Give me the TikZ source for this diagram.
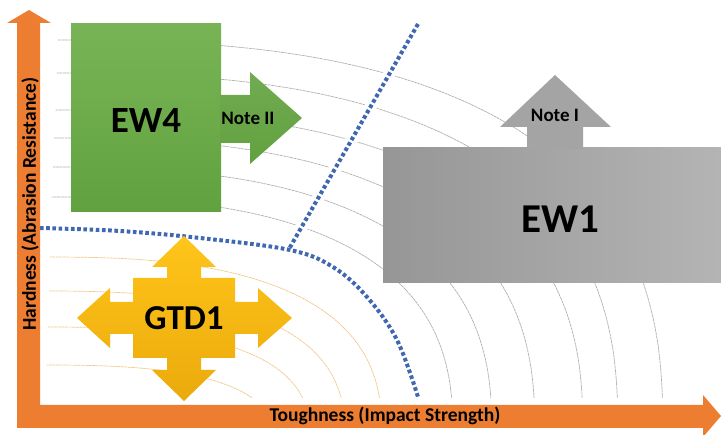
\documentclass[tikz,border=0pt]{standalone}
\usepackage{fontspec}
\setmainfont{Carlito}
\usetikzlibrary{calc}
\definecolor{axOrange}{HTML}{ED7D31}
\definecolor{ewGreenTop}{HTML}{78B456}
\definecolor{ewGreenBot}{HTML}{61A13F}
\definecolor{ewGrayL}{HTML}{969696}
\definecolor{ewGrayR}{HTML}{B4B4B4}
\definecolor{noteGray}{HTML}{A4A4A4}
\definecolor{gtdTop}{HTML}{FFC51A}
\definecolor{gtdBot}{HTML}{EBAA0C}
\definecolor{bndBlue}{HTML}{3F68B0}
\definecolor{cnGray}{HTML}{B0B0B0}
\definecolor{cnOrange}{HTML}{F2C98A}

\begin{document}
\begin{tikzpicture}[x=1pt, y=-1pt,
    big/.style={font=\bfseries\fontsize{37}{39}\selectfont, inner sep=0pt},
    note/.style={font=\bfseries\fontsize{19}{21}\selectfont, inner sep=0pt},
    axlbl/.style={font=\bfseries\fontsize{19.5}{21}\selectfont, inner sep=0pt},
    contour/.style={line width=0.7pt, dash pattern=on 3pt off 0.6pt},
    bound/.style={bndBlue, line width=4pt, dash pattern=on 3.6pt off 2.6pt},
    gap/.style={white, line width=12pt},
]
    \useasboundingbox (0,0) rectangle (721,435);
    \fill[white] (0,0) rectangle (721,435);

    \begin{scope}
        \clip (45,0) rectangle (721,398);
        \foreach \yy/\xx/\cc in {40/663/cnGray, 73/618/cnGray, 110/583/cnGray,
                                 138/535/cnGray, 167/492/cnGray, 197/453/cnGray,
                                 257/382/cnOrange, 291/345/cnOrange,
                                 327/310/cnOrange, 365/272/cnOrange}
            \draw[contour, \cc] plot[domain=0.5:89.5, samples=70, variable=\t]
                ({40+(\xx-40)*pow(cos(\t),0.75)}, {440-(440-\yy)*pow(sin(\t),0.75)});
    \end{scope}

    \draw[gap] (418,24) -- (289,249);
    \draw[gap] plot[smooth, tension=0.6] coordinates
        {(40,228) (120,231) (200,238) (290,250) (333,267) (367,297) (397,340) (418,397)};
    \draw[bound] (418,24) -- (289,249);
    \draw[bound] plot[smooth, tension=0.6] coordinates
        {(40,228) (120,231) (200,238) (290,250) (333,267) (367,297) (397,340) (418,397)};

    \shade[top color=ewGreenTop, bottom color=ewGreenBot] (71,24) rectangle (221,212);
    \shade[top color=ewGreenTop!95!black, bottom color=ewGreenBot]
        (220,95) -- (250,95) -- (250,72) -- (302,118) -- (250,164) -- (250,143) -- (220,143) -- cycle;
    \node[big] (ew4) at (146,120) {EW4};
    \node[note] (note2) at (248,118) {Note II};

    \shade[left color=ewGrayL, right color=ewGrayR] (383,148) rectangle (721,283);
    \fill[noteGray] (527,149) -- (527,127) -- (500,127) -- (555,75) -- (611,127) -- (583,127) -- (583,149) -- cycle;
    \node[big, font=\bfseries\fontsize{41}{43}\selectfont] (ew1) at (560,219) {EW1};
    \node[note] (note1) at (555,115) {Note I};

    \shade[top color=gtdTop, bottom color=gtdBot] (184,318) ++(0,-82)
        -- ++(32,31) -- ++(-15,0) -- ++(0,11) -- ++(34,0) -- ++(0,24) -- ++(23,0)
        -- ++(0,-14) -- ++(34,30) -- ++(-34,30) -- ++(0,-14) -- ++(-23,0) -- ++(0,24)
        -- ++(-34,0) -- ++(0,12) -- ++(15,0) -- ++(-32,31) -- ++(-32,-31) -- ++(15,0)
        -- ++(0,-12) -- ++(-34,0) -- ++(0,-24) -- ++(-23,0) -- ++(0,14) -- ++(-33,-30)
        -- ++(33,-30) -- ++(0,14) -- ++(23,0) -- ++(0,-24) -- ++(34,0) -- ++(0,-11)
        -- ++(-15,0) -- cycle;
    \node[big, font=\bfseries\fontsize{35}{37}\selectfont] (gtd1) at (184,318) {GTD1};

    \fill[axOrange] (17,428) -- (17,23) -- (7,23) -- (29,10) -- (51,23) -- (40,23) -- (40,428) -- cycle;
    \fill[axOrange] (17,405) -- (703,405) -- (703,395) -- (721,416) -- (703,437) -- (703,428) -- (17,428) -- cycle;
    \node[axlbl, rotate=90] (hard) at (30,204) {Hardness (Abrasion Resistance)};
    \node[axlbl] (tough) at (385,416) {Toughness (Impact Strength)};
\end{tikzpicture}
\end{document}
